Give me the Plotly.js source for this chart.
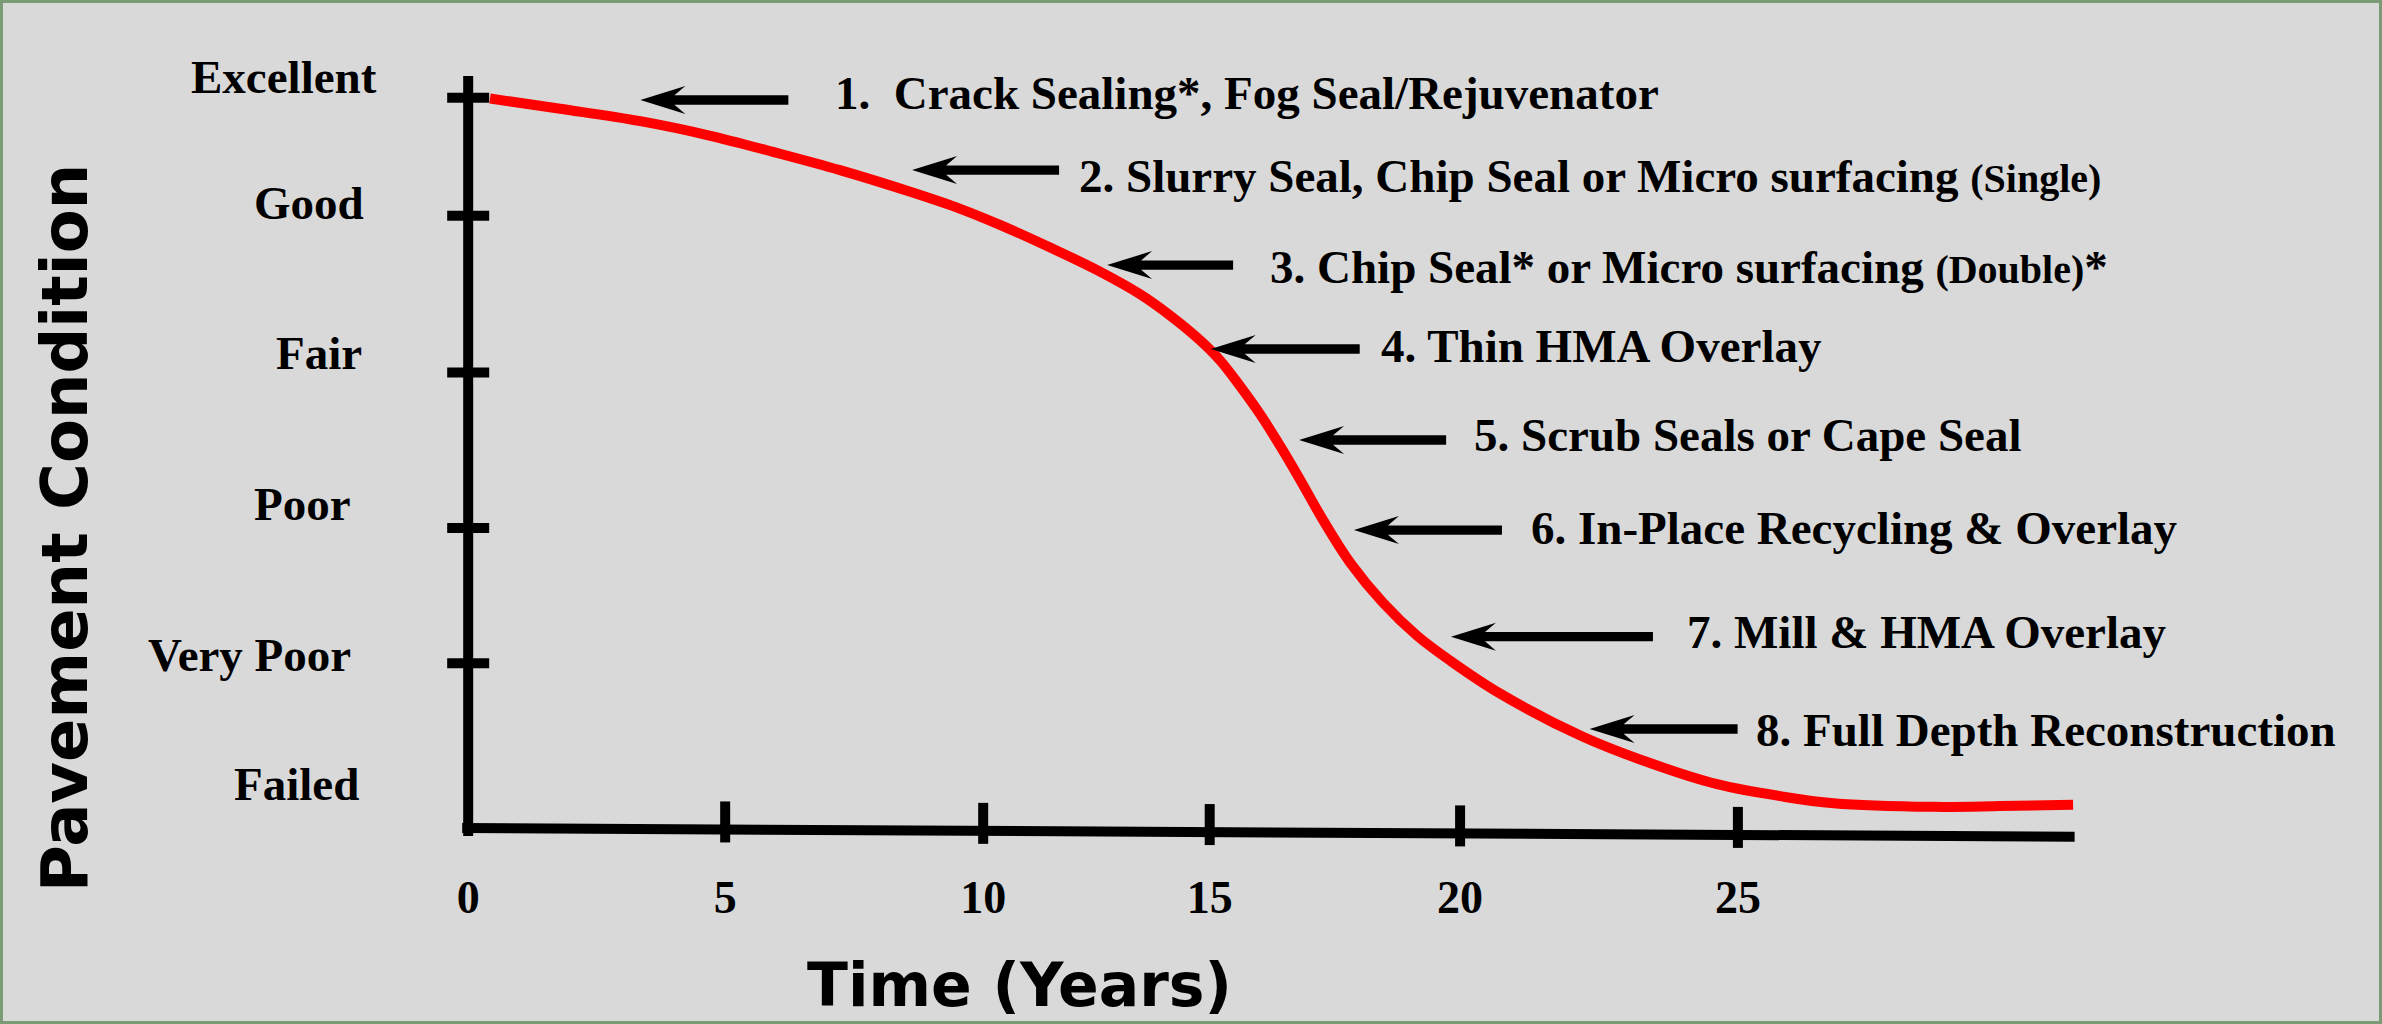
<!DOCTYPE html>
<html>
<head>
<meta charset="utf-8">
<script src="https://cdn.plot.ly/plotly-3.0.1.min.js"></script>
<style>
  html, body { margin: 0; padding: 0; background: #d9d9d9; }
  #chart { width: 2382px; height: 1024px; }
</style>
</head>
<body>
<div id="chart"></div>
<script>
// ---------------- DATA ----------------
// Pavement deterioration curve: time (years) vs condition (0 = failed .. 100 = excellent)
const years = [0.43, 1.81, 3.39, 4.77, 6.0, 7.32, 8.72, 9.69, 10.47, 11.46, 12.44, 13.23, 13.82, 14.41,
               14.81, 15.2, 15.59, 15.99, 16.38, 16.83, 17.37, 18.02, 18.69, 19.34, 20.32, 21.95, 23.27,
               24.59, 25.89, 26.88, 28.84, 30.16, 31.6];
const condition = [99.9, 98.5, 96.8, 94.8, 92.6, 90.1, 87.1, 84.8, 82.6, 79.5, 76.2, 73.1, 70.2, 66.8,
                   64.0, 60.5, 56.7, 52.3, 47.7, 42.2, 36.3, 30.8, 26.3, 22.9, 18.4, 12.5, 8.9,
                   6.0, 4.3, 3.4, 2.9, 3.0, 3.2];

// Time axis ticks (positions as drawn in the picture) and their labels
const tickPos = [0, 5.06, 10.14, 14.6, 19.53, 25];
const tickLabels = ['0', '5', '10', '15', '20', '25'];

// Condition levels
const levelNames = ['Excellent', 'Good', 'Fair', 'Poor', 'Very Poor', 'Failed'];
const levelTicks = [100, 83.84, 62.37, 41.1, 22.55];          // levels that carry a tick mark

// Treatments and where their arrows point on the curve
const treatments = [
  '1.&nbsp; Crack Sealing*, Fog Seal/Rejuvenator',
  '2. Slurry Seal, Chip Seal or Micro surfacing <span style="font-size:40px">(Single)</span>',
  '3. Chip Seal* or Micro surfacing <span style="font-size:40px">(Double)</span>*',
  '4. Thin HMA Overlay',
  '5. Scrub Seals or Cape Seal',
  '6. In-Place Recycling &amp; Overlay',
  '7. Mill &amp; HMA Overlay',
  '8. Full Depth Reconstruction'
];
const arrowTipYears = [3.39, 8.74, 12.58, 14.62, 16.36, 17.44, 19.35, 22.08];
const arrowTipCondition = [99.7, 90.11, 77.1, 65.6, 53.14, 40.81, 26.2, 13.56];

// ---------------- LAYOUT / POSITIONS ----------------
const W = 2382, H = 1024;
const M = { l: 392, r: 187, t: 54, b: 158 };
const plotW = W - M.l - M.r, plotH = H - M.t - M.b;
const xRange = [-1.5, 34], yRange = [-5.2, 106];
const paperX = px => (px - M.l) / plotW;
const paperY = py => (H - M.b - py) / plotH;

const arrowLenPx = [148, 147, 126, 149, 147, 148, 202, 148];
const textX = [7.18, 11.99, 15.75, 17.94, 19.76, 20.89, 23.96, 25.31];
const textY = [100.66, 89.32, 76.83, 66.05, 53.82, 41.08, 26.84, 13.49];

const levelLabelShift = [-108, -83, -73.5, -90, -142.3, -96];   // px from axis-area left edge
const levelLabelY = [102.89, 85.66, 65.05, 44.39, 23.65, 6.09];

const axisTop = 102.98, axisBottom = -1.1;
const xAxisLeft = [-0.118, 0], xAxisRight = [31.63, -1.19];
const axisYAt = x => xAxisLeft[1] + (xAxisRight[1] - xAxisLeft[1]) * (x - xAxisLeft[0]) / (xAxisRight[0] - xAxisLeft[0]);

const serif = 'Liberation Serif, Times New Roman, serif';
const sans = 'DejaVu Sans, Verdana, sans-serif';

// ---------------- TRACES ----------------
const traces = [{
  type: 'scatter',
  mode: 'lines',
  x: years,
  y: condition,
  line: { color: '#ff0000', width: 10, shape: 'spline', smoothing: 1 },
  hoverinfo: 'skip',
  showlegend: false
}];

// ---------------- SHAPES ----------------
const shapes = [];
// y axis
shapes.push({ type: 'line', xref: 'x', yref: 'y', x0: 0, x1: 0, y0: axisBottom, y1: axisTop,
              line: { color: '#000', width: 10 }, layer: 'below' });
// x axis (slightly tilted, as drawn)
shapes.push({ type: 'line', xref: 'x', yref: 'y', x0: xAxisLeft[0], y0: xAxisLeft[1], x1: xAxisRight[0], y1: xAxisRight[1],
              line: { color: '#000', width: 10 }, layer: 'below' });
// x ticks
tickPos.forEach((t, i) => {
  if (i === 0) return;
  shapes.push({ type: 'line', xref: 'x', yref: 'y', x0: t, x1: t, ysizemode: 'pixel', yanchor: axisYAt(t),
                y0: -13, y1: 28, line: { color: '#000', width: 10 }, layer: 'below' });
});
// y ticks
levelTicks.forEach(v => {
  shapes.push({ type: 'line', xref: 'x', yref: 'y', xsizemode: 'pixel', xanchor: 0, x0: -21, x1: 21,
                y0: v, y1: v, line: { color: '#000', width: 10 }, layer: 'below' });
});
// arrows
arrowTipYears.forEach((ax, i) => {
  const L = arrowLenPx[i];
  shapes.push({
    type: 'path', xref: 'x', yref: 'y', xsizemode: 'pixel', ysizemode: 'pixel',
    xanchor: ax, yanchor: arrowTipCondition[i],
    path: `M0,0 L45,14 L34,4.65 L${L},4.65 L${L},-4.65 L34,-4.65 L45,-14 Z`,
    fillcolor: '#000', line: { width: 0 }, layer: 'above'
  });
});
// picture frame
shapes.push({ type: 'rect', xref: 'paper', yref: 'paper',
              x0: paperX(1.5), x1: paperX(W - 1.5), y0: paperY(H - 1.5), y1: paperY(1.5),
              line: { color: '#7b9a76', width: 3 }, fillcolor: 'rgba(0,0,0,0)', layer: 'above' });

// ---------------- ANNOTATIONS ----------------
const annotations = [];
treatments.forEach((txt, i) => {
  annotations.push({
    text: txt, xref: 'x', yref: 'y', x: textX[i], y: textY[i],
    xanchor: 'left', yanchor: 'middle', showarrow: false,
    font: { family: serif, size: 47, color: '#000', weight: 700 }
  });
});
levelNames.forEach((name, i) => {
  annotations.push({
    text: name, xref: 'paper', yref: 'y', x: 0, xshift: levelLabelShift[i], y: levelLabelY[i],
    xanchor: 'center', yanchor: 'middle', showarrow: false,
    font: { family: serif, size: 47, color: '#000', weight: 700 }
  });
});
annotations.push({
  text: 'Time (Years)', xref: 'paper', yref: 'paper', x: paperX(1019), y: paperY(985),
  xanchor: 'center', yanchor: 'middle', showarrow: false,
  font: { family: sans, size: 60, color: '#000', weight: 700 }
});
annotations.push({
  text: 'Pavement Condition', xref: 'paper', yref: 'paper', x: paperX(65), y: paperY(528),
  xanchor: 'center', yanchor: 'middle', showarrow: false, textangle: -90,
  font: { family: sans, size: 64, color: '#000', weight: 700 }
});

const layout = {
  width: W, height: H,
  margin: M,
  paper_bgcolor: '#d9d9d9',
  plot_bgcolor: '#d9d9d9',
  showlegend: false,
  xaxis: {
    range: xRange, showgrid: false, zeroline: false, showline: false, ticks: '',
    tickmode: 'array', tickvals: tickPos, ticktext: tickLabels,
    tickfont: { family: serif, size: 46, color: '#000', weight: 700 }
  },
  yaxis: {
    range: yRange, showgrid: false, zeroline: false, showline: false, ticks: '',
    showticklabels: false
  },
  shapes: shapes,
  annotations: annotations
};

Plotly.newPlot('chart', traces, layout, { displayModeBar: false, staticPlot: true });
</script>
</body>
</html>
